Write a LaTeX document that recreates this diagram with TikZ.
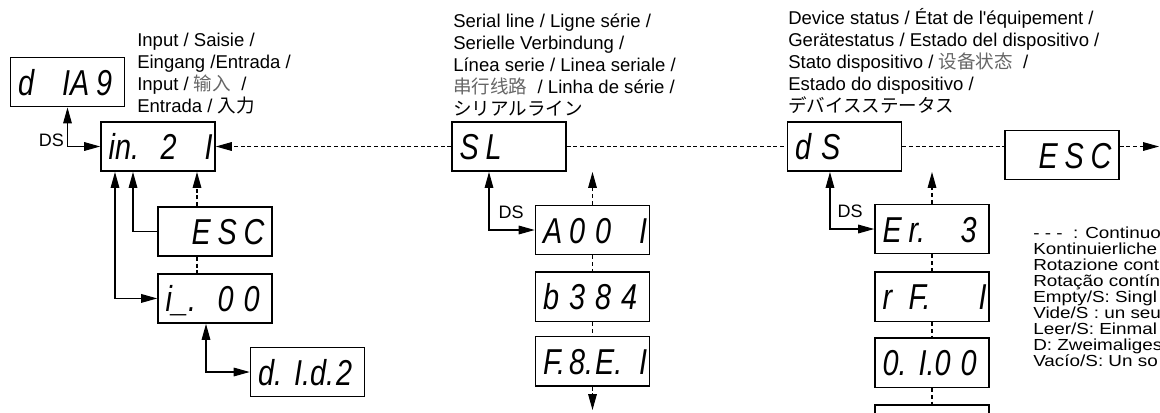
\documentclass[tikz,border=0pt]{standalone}
\usepackage{fontspec}
\setmainfont{Liberation Sans}
\newfontfamily\zh{Noto Sans CJK SC}
\newfontfamily\ja{Noto Sans CJK JP}
\newfontfamily\segfont[FakeStretch=0.8]{Liberation Sans}
\newfontfamily\legfont[FakeStretch=1.18]{Liberation Sans}
\usetikzlibrary{arrows.meta, positioning}

% one digit cell of a display, four cells per display
\newcommand{\dg}[1]{\makebox[19.5pt][l]{#1}}
\newcommand{\digs}[4]{\hspace{4pt}\dg{#1}\dg{#2}\dg{#3}\dg{#4}}
\newcommand{\cn}[1]{{\zh\color{black!60}#1}}

\begin{document}
\begin{tikzpicture}[x=0.75pt, y=-0.75pt, >={Triangle[length=12pt,width=6.5pt]},
    disp/.style={rectangle, draw, line width=1.2pt, minimum width=85.5pt, minimum height=37pt, inner xsep=0pt, inner ysep=0pt, text height=19.5pt, text depth=0pt, font=\segfont\itshape\fontsize{27}{28}\selectfont},
    lbl/.style={align=left, inner sep=0pt, anchor=north west, font=\fontsize{13.9}{16.5}\selectfont},
    legtext/.style={align=left, inner sep=0pt, anchor=north west, font=\legfont\fontsize{12}{12}\selectfont},
    dstext/.style={inner sep=0pt, font=\fontsize{13.5}{16.5}\selectfont},
    link/.style={line width=0.8pt},
    dlink/.style={line width=0.8pt, dash pattern=on 3pt off 2pt}]
    \useasboundingbox (0,0) rectangle (1160,412);

    % Texts above the displays
    \node[lbl] (inplbl) at (137,32.5) {Input / Saisie /\\Eingang /Entrada /\\Input / \cn{输入}\ \ /\\Entrada / {\ja 入力}};
    \node[lbl] (serlbl) at (453,14) {Serial line / Ligne série /\\Serielle Verbindung /\\Línea serie / Linea seriale /\\\cn{串行线路}\ \ / Linha de série /\\{\ja シリアルライン}};
    \node[lbl] (devlbl) at (788,8) {Device status / État de l\textquotesingle équipement /\\Gerätestatus / Estado del dispositivo /\\Stato dispositivo / \cn{设备状态}\ \ /\\Estado do dispositivo /\\{\ja デバイスステータス}};

    % Input branch
    \node[disp] (diag) at (67.5,82) {\digs{d}{\hfill I}{A}{9}};
    \node[disp] (inp) at (158,146.5) {\digs{in.}{}{2}{\hfill I}};
    \node[disp] (escA) at (215,231.5) {\digs{}{E}{S}{C}};
    \node[disp, below=12pt of escA] (izero) {\digs{i\_.}{}{0}{0}};
    \node[disp] (did) at (307.5,372) {\digs{d.}{\hfill I.}{d.}{2}};

    % Serial line branch
    \node[disp] (sl) at (509,146.5) {\digs{S}{L}{}{}};
    \node[disp] (addr) at (592.5,230) {\digs{A}{0}{0}{\hfill I}};
    \node[disp, below=12pt of addr] (baud) {\digs{b}{3}{8}{4}};
    \node[disp, below=10pt of baud] (frame) {\digs{F.}{8.}{E.}{\hfill I}};

    % Device status branch
    \node[disp] (ds) at (844.5,146.5) {\digs{d}{S}{}{}};
    \node[disp] (escB) at (1062,155) {\digs{}{E}{S}{C}};
    \node[disp] (err) at (932,229) {\digs{E}{r.}{}{3}};
    \node[disp, below=12.75pt of err] (rf) {\digs{r}{F.}{}{\hfill I}};
    \node[disp, below=11.25pt of rf] (ver) {\digs{0.}{\hfill I.}{0}{0}};
    \node[disp, below=12pt of ver] (next) {};

    % Legend
    \node[legtext] (legend) at (1033,227) {- - -\ \ : Continuo\\Kontinuierliche\\Rotazione cont\\Rotação contín\\Empty/S: Singl\\Vide/S : un seu\\Leer/S: Einmal\\D: Zweimaliges\\Vacío/S: Un so};

    \coordinate (escAtop) at ([xshift=-13.5pt]escA.north);
    \coordinate (escAbot) at ([xshift=-13.5pt]escA.south);
    \coordinate (out) at (1159,146.5);
    \coordinate (slout) at (592.5,410);

    % Arrows, input branch
    \draw[link, <->] (diag.south) |- node[pos=0.5, dstext, anchor=base east, xshift=-2.25pt] {DS} (inp.west);
    \draw[link, <->] ([xshift=-32.25pt]inp.south) |- (izero.west);
    \draw[link, ->] (escA.west) -| ([xshift=-18.75pt]inp.south);
    \draw[dlink, ->] (escAtop) -- (escAtop |- inp.south);
    \draw[dlink] (escAbot) -- (escAbot |- izero.north);
    \draw[link, <->] ([xshift=-6.75pt]izero.south) |- (did.west);

    % Arrows, main row
    \draw[dlink, ->] (sl.west) -- (inp.east);
    \draw[dlink] (sl.east) -- (ds.west);
    \draw[dlink] (ds.east) -- (ds.east -| escB.west);
    \draw[dlink, ->] (escB.east |- ds.east) -- (out);

    % Arrows, serial line branch
    \draw[link, <->] ([xshift=-15pt]sl.south) |- node[pos=0.5, dstext, anchor=base west, xshift=6.75pt, yshift=9pt] {DS} (addr.west);
    \draw[dlink, ->] (addr.north) -- (addr.north |- sl.south);
    \draw[dlink] (addr) -- (baud);
    \draw[dlink] (baud) -- (frame);
    \draw[dlink, ->] (frame.south) -- (slout);

    % Arrows, device status branch
    \draw[link, <->] ([xshift=-10.9pt]ds.south) |- node[pos=0.5, dstext, anchor=base west, xshift=5.25pt, yshift=8.5pt] {DS} (err.west);
    \draw[dlink, ->] (err.north) -- (err.north |- ds.south);
    \draw[dlink] (err) -- (rf);
    \draw[dlink] (rf) -- (ver);
    \draw[dlink] (ver) -- (next);
\end{tikzpicture}
\end{document}
